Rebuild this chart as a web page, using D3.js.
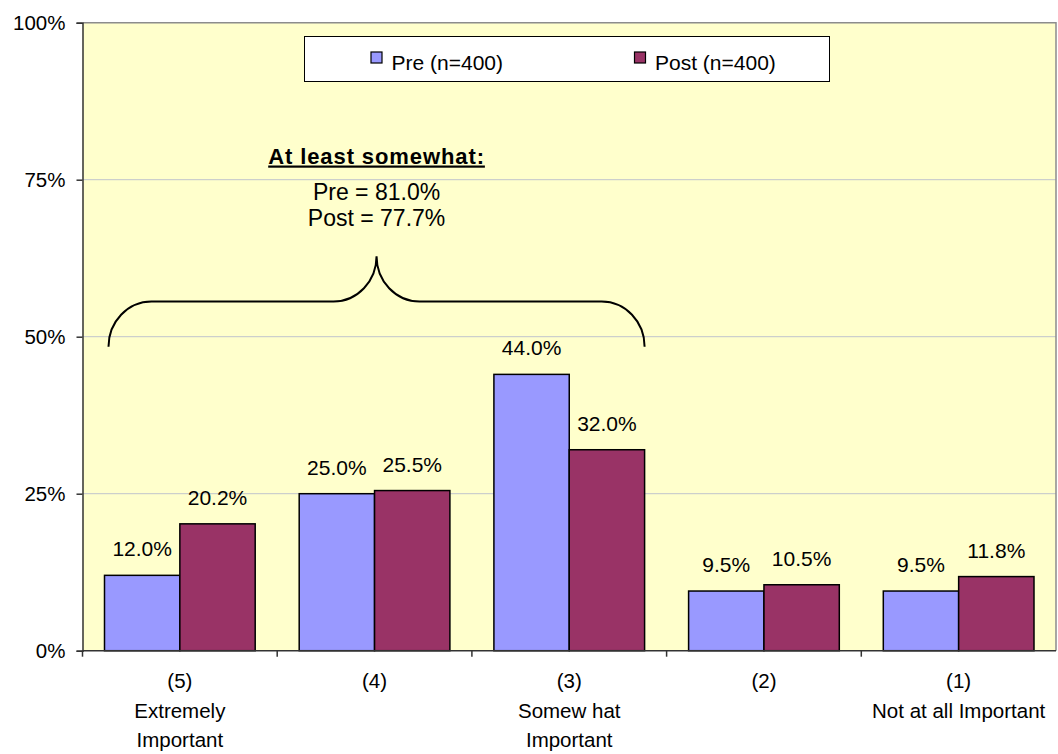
<!DOCTYPE html>
<html>
<head>
<meta charset="utf-8">
<script src="https://cdn.jsdelivr.net/npm/d3@7"></script>
<style>
  html, body { margin: 0; padding: 0; background: #ffffff; }
  svg { display: block; font-family: "Liberation Sans", Arial, sans-serif; }
</style>
</head>
<body>
<svg id="chart" width="1058" height="754"></svg>
<script>
// Ratings on importance, pre vs post survey
const categoryCodes = ["(5)", "(4)", "(3)", "(2)", "(1)"];
const categoryNames = [["Extremely", "Important"], [], ["Somew hat", "Important"], [], ["Not at all Important"]];
const seriesNames = ["Pre (n=400)", "Post (n=400)"];
const preValues = [12.0, 25.0, 44.0, 9.5, 9.5];
const postValues = [20.2, 25.5, 32.0, 10.5, 11.8];
const yTicks = [0, 25, 50, 75, 100];
const noteTitle = "At least somewhat:";
const noteLines = ["Pre = 81.0%", "Post = 77.7%"];
const noteSpan = [0, 2];                 // categories covered by the brace
const braceLevels = [48.4, 55.6, 62.8];  // ends, shoulders, tip (percent)

const colors = ["#9999ff", "#993366"];
const svg = d3.select("#chart");

const plotL = 82.5, plotR = 1056, plotT = 22.7, plotB = 650.7;

const x = d3.scaleBand().domain(categoryCodes).range([plotL, plotR]).padding(0);
const band = x.bandwidth();
const gap = band * 0.113;
const xs = d3.scaleBand().domain(seriesNames).range([gap, band - gap]).padding(0);
const y = d3.scaleLinear().domain([0, 100]).range([plotB, plotT]);

// plot background
svg.append("rect")
  .attr("x", plotL).attr("y", plotT)
  .attr("width", plotR - plotL).attr("height", plotB - plotT)
  .attr("fill", "#ffffcc");

// horizontal gridlines
svg.append("g").selectAll("line")
  .data(yTicks.filter(t => t > 0 && t < 100))
  .join("line")
  .attr("x1", plotL).attr("x2", plotR)
  .attr("y1", d => y(d)).attr("y2", d => y(d))
  .attr("stroke", "#c0c4cc").attr("stroke-width", 1);

// plot frame (top and right)
svg.append("path")
  .attr("d", `M${plotL},${y(100)}H${plotR}V${plotB}`)
  .attr("fill", "none").attr("stroke", "#8c8c8c").attr("stroke-width", 1.5);

// bars
const rows = categoryCodes.map((c, i) => ({ cat: c, vals: [preValues[i], postValues[i]] }));
const groups = svg.append("g").selectAll("g")
  .data(rows).join("g")
  .attr("transform", d => `translate(${x(d.cat)},0)`);

groups.selectAll("rect")
  .data(d => d.vals.map((v, j) => ({ v, s: seriesNames[j], j })))
  .join("rect")
  .attr("x", d => xs(d.s))
  .attr("y", d => y(d.v))
  .attr("width", xs.bandwidth())
  .attr("height", d => y(0) - y(d.v))
  .attr("fill", d => colors[d.j])
  .attr("stroke", "#000").attr("stroke-width", 1.5);

groups.selectAll("text")
  .data(d => d.vals.map((v, j) => ({ v, s: seriesNames[j], j })))
  .join("text")
  .attr("x", d => xs(d.s) + xs.bandwidth() / 2)
  .attr("y", d => y(d.v) - 19)
  .attr("text-anchor", "middle")
  .attr("font-size", 21)
  .attr("fill", "#000")
  .text(d => d.v.toFixed(1) + "%");

// y axis
const yAxis = d3.axisLeft(y).tickValues(yTicks).tickSize(6).tickPadding(11)
  .tickFormat(d => d + "%");
const gy = svg.append("g").attr("transform", `translate(${plotL},0)`).call(yAxis);
gy.select(".domain").attr("stroke", "#333").attr("stroke-width", 1.5);
gy.selectAll(".tick line").attr("stroke", "#333").attr("stroke-width", 1.5);
gy.selectAll(".tick text").attr("font-size", 20.5).attr("fill", "#000")
  .attr("font-family", "Liberation Sans, Arial, sans-serif");

// x axis line with ticks between categories
svg.append("line")
  .attr("x1", plotL).attr("x2", plotR).attr("y1", plotB).attr("y2", plotB)
  .attr("stroke", "#333").attr("stroke-width", 1.5);
svg.append("g").selectAll("line")
  .data(categoryCodes)
  .join("line")
  .attr("x1", d => x(d)).attr("x2", d => x(d))
  .attr("y1", plotB).attr("y2", plotB + 6)
  .attr("stroke", "#333").attr("stroke-width", 1.5);

// category labels
const catLabels = svg.append("g").selectAll("text")
  .data(categoryCodes.map((c, i) => ({ c, lines: [c].concat(categoryNames[i]) })))
  .join("text")
  .attr("text-anchor", "middle")
  .attr("font-size", 20.5)
  .attr("fill", "#000");
catLabels.each(function (d) {
  const t = d3.select(this);
  d.lines.forEach((ln, k) => {
    t.append("tspan")
      .attr("x", x(d.c) + band / 2)
      .attr("y", plotB + 37.5 + k * 29.5)
      .text(ln);
  });
});

// legend
const lg = svg.append("g");
lg.append("rect")
  .attr("x", 304.5).attr("y", 36.5).attr("width", 525).attr("height", 45)
  .attr("fill", "#fff").attr("stroke", "#000").attr("stroke-width", 1);
const legendX = [371, 634.5];
seriesNames.forEach((s, j) => {
  lg.append("rect")
    .attr("x", legendX[j]).attr("y", 52).attr("width", 11).attr("height", 11)
    .attr("fill", colors[j]).attr("stroke", "#000").attr("stroke-width", 1.2);
  lg.append("text")
    .attr("x", legendX[j] + 20.5).attr("y", 70)
    .attr("font-size", 21).attr("fill", "#000")
    .text(s);
});

// brace over the upper three categories
const bx0 = x(categoryCodes[noteSpan[0]]) + xs(seriesNames[0]) + 4;
const bx1 = x(categoryCodes[noteSpan[1]]) + xs(seriesNames[1]) + xs.bandwidth();
const bxm = (bx0 + bx1) / 2;
const yEnd = y(braceLevels[0]), yMid = y(braceLevels[1]), yTip = y(braceLevels[2]);
const rx = 43, ry1 = yEnd - yMid, ry2 = yMid - yTip;
const braceD = [
  `M${bx0},${yEnd}`,
  `A${rx},${ry1} 0 0 1 ${bx0 + rx},${yMid}`,
  `H${bxm - rx}`,
  `A${rx},${ry2} 0 0 0 ${bxm},${yTip}`,
  `A${rx},${ry2} 0 0 0 ${bxm + rx},${yMid}`,
  `H${bx1 - rx}`,
  `A${rx},${ry1} 0 0 1 ${bx1},${yEnd}`
].join(" ");
svg.append("path").attr("d", braceD)
  .attr("fill", "none").attr("stroke", "#000").attr("stroke-width", 2);

// brace note
svg.append("text")
  .attr("x", bxm).attr("y", 163.5)
  .attr("text-anchor", "middle").attr("font-size", 22).attr("font-weight", "bold")
  .attr("letter-spacing", 0.9)
  .attr("text-decoration", "underline").attr("fill", "#000")
  .text(noteTitle);
noteLines.forEach((ln, k) => {
  svg.append("text")
    .attr("x", bxm).attr("y", 199.5 + k * 26.5)
    .attr("text-anchor", "middle").attr("font-size", 23).attr("fill", "#000")
    .text(ln);
});
</script>
</body>
</html>
